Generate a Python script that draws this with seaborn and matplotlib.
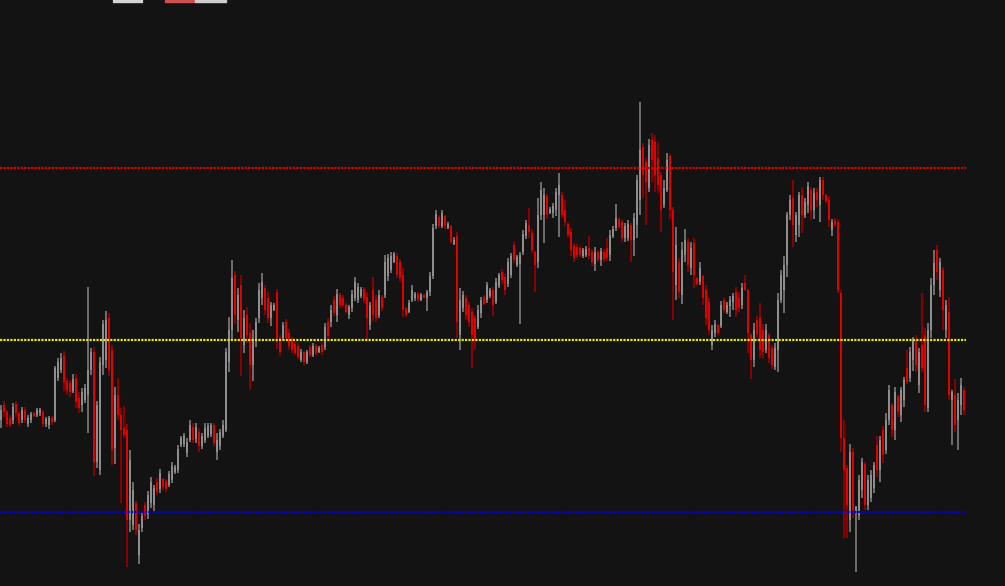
import numpy as np
import pandas as pd
import matplotlib
matplotlib.use("Agg")
import matplotlib.pyplot as plt
from matplotlib.patches import Rectangle
import seaborn as sns

# ---- OHLC data (index points) ----
opens = [10920, 10935, 10928, 10922, 10920, 10936, 10927, 10920, 10930, 10916,
 10920, 10927, 10925, 10927, 10928, 10916, 10915, 10922, 10920, 10962,
 10970, 10984, 10959, 10957, 10949, 10962, 10942, 10935, 10940, 10945,
 10970, 10988, 10878, 10870, 10975, 10980, 11022, 10990, 10892, 10945,
 10925, 10912, 10910, 10820, 10815, 10837, 10785, 10812, 10835, 10826,
 10837, 10835, 10858, 10851, 10861, 10859, 10855, 10860, 10868, 10870,
 10895, 10896, 10887, 10900, 10913, 10901, 10908, 10894, 10900, 10904,
 10906, 10915, 10888, 10894, 10904, 10910, 10978, 11010, 11065, 11020,
 11055, 10995, 11025, 11007, 10975, 11000, 11022, 11042, 11052, 11042,
 11022, 11030, 11048, 11002, 11002, 11018, 11007, 11000, 10996, 10994,
 10980, 10988, 10978, 10993, 10985, 10994, 10988, 10995, 10993, 11018,
 11018, 11040, 11025, 11045, 11042, 11035, 11025, 11032, 11042, 11040,
 11044, 11051, 11043, 11015, 11050, 11040, 11025, 11043, 11045, 11064,
 11070, 11078, 11084, 11078, 11065, 11032, 11028, 11040, 11042, 11046,
 11040, 11045, 11042, 11048, 11064, 11114, 11123, 11114, 11124, 11112,
 11114, 11096, 11104, 11005, 11032, 11042, 11035, 11028, 11022, 11013,
 11027, 11043, 11040, 11044, 11050, 11038, 11054, 11068, 11063, 11056,
 11065, 11095, 11075, 11076, 11088, 11104, 11115, 11107, 11088, 11078,
 11125, 11125, 11144, 11127, 11127, 11130, 11145, 11145, 11130, 11116,
 11108, 11094, 11093, 11092, 11084, 11085, 11092, 11088, 11076, 11088,
 11080, 11088, 11092, 11085, 11104, 11112, 11121, 11118, 11102, 11102,
 11115, 11100, 11115, 11140, 11193, 11178, 11152, 11200, 11198, 11182,
 11165, 11135, 11150, 11184, 11130, 11055, 11078, 11045, 11085, 11098,
 11072, 11097, 11062, 11058, 11064, 11050, 11038, 10995, 11007, 11015,
 11014, 11040, 11028, 11034, 11038, 11048, 11042, 11035, 11057, 11050,
 11005, 10980, 11020, 11022, 11010, 10990, 11005, 10992, 10973, 10990,
 11040, 11050, 11075, 11125, 11142, 11105, 11115, 11145, 11125, 11135,
 11150, 11130, 11148, 11135, 11160, 11145, 11140, 11110, 11120, 11118,
 11047, 10902, 10872, 10820, 10888, 10829, 10825, 10850, 10876, 10835,
 10842, 10852, 10895, 10870, 10910, 10890, 10920, 10935, 10910, 10944,
 10925, 10940, 10972, 10962, 10980, 11000, 10955, 10995, 11005, 10932,
 11010, 11055, 11090, 11050, 11070, 11010, 11028, 10940, 10945, 10920,
 10935, 10950]

highs = [10935, 10939, 10930, 10925, 10937, 10939, 10929, 10933, 10933, 10925,
 10928, 10928, 10932, 10932, 10930, 10923, 10924, 10924, 10974, 10982,
 10987, 10989, 10962, 10960, 10966, 10966, 10948, 10952, 10956, 11053,
 10992, 10993, 10939, 10983, 11020, 11029, 11027, 10995, 10953, 10962,
 10932, 10934, 10916, 10890, 10858, 10839, 10816, 10827, 10838, 10849,
 10863, 10855, 10862, 10871, 10862, 10861, 10869, 10878, 10875, 10895,
 10904, 10907, 10902, 10920, 10917, 10917, 10912, 10907, 10917, 10917,
 10917, 10917, 10907, 10911, 10920, 10992, 11023, 11080, 11069, 11052,
 11065, 11030, 11033, 11017, 11010, 11022, 11057, 11067, 11055, 11048,
 11038, 11037, 11051, 11005, 11018, 11021, 11011, 11003, 10998, 10997,
 10991, 10989, 10990, 10995, 10997, 10996, 10994, 10997, 11017, 11022,
 11035, 11044, 11051, 11047, 11045, 11037, 11035, 11050, 11063, 11057,
 11053, 11053, 11048, 11038, 11063, 11045, 11050, 11045, 11085, 11086,
 11088, 11088, 11087, 11081, 11072, 11033, 11040, 11055, 11048, 11048,
 11047, 11046, 11050, 11068, 11116, 11130, 11125, 11130, 11125, 11118,
 11115, 11103, 11108, 11052, 11049, 11045, 11038, 11032, 11025, 11035,
 11043, 11045, 11058, 11052, 11053, 11062, 11067, 11071, 11066, 11082,
 11087, 11098, 11085, 11088, 11110, 11120, 11132, 11111, 11089, 11142,
 11158, 11152, 11146, 11133, 11137, 11152, 11167, 11148, 11140, 11118,
 11112, 11097, 11096, 11094, 11092, 11094, 11104, 11091, 11093, 11090,
 11092, 11091, 11102, 11110, 11114, 11136, 11123, 11121, 11117, 11120,
 11117, 11127, 11165, 11238, 11197, 11182, 11201, 11207, 11205, 11198,
 11168, 11160, 11187, 11186, 11133, 11113, 11082, 11098, 11111, 11102,
 11098, 11102, 11063, 11078, 11065, 11055, 11042, 11015, 11020, 11016,
 11039, 11042, 11038, 11044, 11047, 11053, 11048, 11057, 11065, 11051,
 11007, 11017, 11024, 11037, 11016, 11016, 11007, 10995, 10997, 11047,
 11070, 11084, 11128, 11145, 11160, 11128, 11148, 11153, 11142, 11158,
 11153, 11152, 11152, 11163, 11163, 11146, 11144, 11121, 11122, 11121,
 11050, 10920, 10875, 10896, 10892, 10834, 10865, 10882, 10878, 10865,
 10870, 10878, 10904, 10904, 10914, 10927, 10955, 10937, 10953, 10945,
 10953, 10963, 10990, 10993, 11003, 11005, 10992, 11047, 11012, 11017,
 11062, 11090, 11095, 11082, 11073, 11040, 11043, 10950, 10961, 10947,
 10962, 10953]

lows = [10912, 10923, 10913, 10913, 10916, 10923, 10914, 10917, 10917, 10913,
 10917, 10923, 10923, 10924, 10913, 10913, 10911, 10915, 10918, 10959,
 10967, 10949, 10945, 10943, 10947, 10932, 10927, 10928, 10937, 10907,
 10965, 10864, 10872, 10865, 10965, 10972, 10964, 10875, 10876, 10920,
 10837, 10902, 10773, 10808, 10810, 10805, 10776, 10808, 10820, 10821,
 10832, 10829, 10845, 10847, 10850, 10848, 10853, 10857, 10866, 10867,
 10893, 10893, 10883, 10898, 10897, 10897, 10888, 10891, 10897, 10902,
 10903, 10894, 10880, 10890, 10902, 10908, 10968, 11000, 11016, 11008,
 10964, 10987, 10997, 10950, 10959, 10993, 11017, 11035, 11025, 11017,
 11014, 11029, 10991, 10984, 11000, 11000, 10990, 10987, 10985, 10981,
 10978, 10975, 10976, 10983, 10983, 10985, 10987, 10985, 10990, 11001,
 11013, 11024, 11018, 11032, 11033, 11027, 11021, 11028, 11039, 11037,
 11042, 11037, 11000, 11010, 11018, 11018, 11022, 11029, 11042, 11059,
 11067, 11077, 11062, 11058, 11023, 11023, 11027, 11038, 11039, 11038,
 11039, 11042, 11029, 11044, 11061, 11111, 11112, 11112, 11111, 11111,
 11096, 11095, 11002, 10990, 11028, 11020, 11013, 10972, 10990, 11011,
 11022, 11035, 11037, 11042, 11024, 11036, 11052, 11056, 11045, 11053,
 11062, 11077, 11073, 11016, 11085, 11101, 11102, 11087, 11048, 11072,
 11120, 11097, 11121, 11126, 11122, 11124, 11103, 11122, 11114, 11103,
 11084, 11078, 11082, 11083, 11082, 11083, 11081, 11074, 11069, 11078,
 11074, 11078, 11079, 11079, 11102, 11109, 11111, 11098, 11098, 11099,
 11078, 11084, 11102, 11125, 11142, 11115, 11148, 11158, 11148, 11147,
 11108, 11132, 11148, 11121, 11020, 11040, 11042, 11036, 11078, 11068,
 11065, 11052, 11055, 11055, 11035, 11015, 11005, 10990, 11003, 11005,
 11012, 11027, 11026, 11023, 11030, 11023, 11028, 11031, 11049, 10987,
 10961, 10973, 11003, 10982, 10982, 10987, 10977, 10971, 10970, 10968,
 11037, 11027, 11063, 11120, 11093, 11098, 11103, 11107, 11122, 11127,
 11120, 11121, 11133, 11118, 11140, 11137, 11113, 11104, 11113, 11047,
 10888, 10802, 10802, 10808, 10822, 10768, 10820, 10842, 10830, 10830,
 10838, 10847, 10863, 10858, 10877, 10886, 10915, 10903, 10900, 10923,
 10918, 10933, 10956, 10958, 10969, 10968, 10947, 10968, 10928, 10928,
 11002, 11045, 11060, 11043, 11010, 11002, 10940, 10895, 10908, 10890,
 10925, 10925]

closes = [10930, 10928, 10916, 10915, 10933, 10927, 10917, 10930, 10920, 10922,
 10926, 10924, 10930, 10930, 10916, 10921, 10922, 10918, 10972, 10978,
 10982, 10958, 10950, 10948, 10961, 10938, 10932, 10948, 10952, 10970,
 10988, 10878, 10935, 10978, 11016, 11020, 10970, 10890, 10945, 10925,
 10910, 10905, 10820, 10880, 10850, 10810, 10810, 10824, 10824, 10845,
 10858, 10852, 10848, 10867, 10853, 10851, 10866, 10874, 10873, 10891,
 10902, 10904, 10898, 10915, 10900, 10913, 10894, 10904, 10912, 10914,
 10915, 10897, 10900, 10908, 10915, 10988, 11010, 11062, 11025, 11045,
 11002, 11022, 11005, 10975, 11000, 11018, 11050, 11058, 11030, 11022,
 11035, 11035, 11002, 10988, 11015, 11002, 10994, 10990, 10987, 10983,
 10988, 10978, 10988, 10985, 10994, 10987, 10992, 10988, 11013, 11004,
 11030, 11027, 11046, 11035, 11035, 11028, 11033, 11046, 11058, 11053,
 11051, 11040, 11022, 11035, 11025, 11022, 11045, 11032, 11078, 11082,
 11084, 11086, 11065, 11062, 11030, 11025, 11037, 11050, 11046, 11040,
 11045, 11042, 11048, 11064, 11112, 11126, 11114, 11127, 11114, 11116,
 11098, 11100, 11018, 11040, 11045, 11025, 11018, 11005, 11000, 11030,
 11040, 11036, 11055, 11050, 11035, 11058, 11065, 11060, 11050, 11078,
 11084, 11080, 11083, 11085, 11106, 11117, 11108, 11090, 11075, 11125,
 11150, 11145, 11125, 11131, 11134, 11148, 11155, 11125, 11118, 11105,
 11090, 11082, 11085, 11085, 11090, 11091, 11084, 11078, 11088, 11080,
 11089, 11081, 11082, 11105, 11111, 11122, 11113, 11102, 11114, 11116,
 11100, 11122, 11160, 11190, 11165, 11158, 11195, 11180, 11165, 11155,
 11130, 11152, 11180, 11130, 11068, 11095, 11048, 11090, 11100, 11075,
 11092, 11065, 11056, 11072, 11042, 11022, 11010, 11010, 11016, 11007,
 11035, 11030, 11035, 11040, 11044, 11030, 11032, 11052, 11050, 11007,
 10980, 11010, 11006, 10990, 10988, 11010, 10982, 10975, 10992, 11040,
 11065, 11075, 11125, 11140, 11115, 11125, 11145, 11125, 11138, 11154,
 11130, 11147, 11140, 11160, 11145, 11139, 11120, 11118, 11115, 11050,
 10902, 10870, 10835, 10888, 10830, 10833, 10860, 10878, 10835, 10860,
 10865, 10875, 10870, 10900, 10885, 10920, 10950, 10910, 10948, 10928,
 10950, 10960, 10958, 10988, 11000, 10975, 10988, 10972, 10935, 11010,
 11055, 11077, 11068, 11078, 11030, 11035, 10945, 10948, 10915, 10940,
 10955, 10930]

# horizontal levels: resistance, pivot, support
level_names = ["resistance", "pivot", "support"]
level_values = [11172, 11000, 10828]
level_colors = ["#e00000", "#e6e600", "#0000e0"]

# ---- style ----
BG = "#131313"
UP_BODY, UP_WICK = "#8e8e8e", "#6c6c6c"
DN_BODY, DN_WICK = "#e40000", "#8a0000"

sns.set_theme(style="dark", rc={"axes.facecolor": BG, "figure.facecolor": BG})
plt.rcParams["font.family"] = ["DejaVu Sans"]

n = min(len(opens), len(highs), len(lows), len(closes))
df = pd.DataFrame({
    "open": opens[:n], "high": highs[:n], "low": lows[:n], "close": closes[:n]
})
df["idx"] = np.arange(n)
up = df["close"] >= df["open"]

fig = plt.figure(figsize=(10.05, 5.86), dpi=100)
fig.patch.set_facecolor(BG)
ax = fig.add_axes([0, 0, 1, 1])
ax.set_facecolor(BG)

W = 0.8
# wicks
ax.bar(df["idx"], df["high"] - df["low"], bottom=df["low"], width=W,
       color=np.where(up, UP_WICK, DN_WICK), linewidth=0, antialiased=False, zorder=2)
# bodies
body_lo = np.minimum(df["open"], df["close"])
body_h = np.maximum((df["close"] - df["open"]).abs(), 1)
ax.bar(df["idx"], body_h, bottom=body_lo, width=W,
       color=np.where(up, UP_BODY, DN_BODY), linewidth=0, antialiased=False, zorder=3)

# level lines with seaborn
x0 = -1.0 / 3.0
x_end = n - 1 + 0.5
lv = pd.DataFrame({
    "x": [x0, x_end] * len(level_values),
    "y": [v for v in level_values for _ in range(2)],
    "level": [nm for nm in level_names for _ in range(2)],
})
sns.lineplot(data=lv, x="x", y="y", hue="level",
             palette=dict(zip(level_names, level_colors)),
             hue_order=level_names, legend=False, ax=ax,
             linewidth=1.6, linestyle=(0, (1, 0.55)), zorder=5,
             estimator=None, sort=False)

ax.set_xlim(x0, x0 + 1005 / 3.0)
ax.set_ylim(10754, 11340)
ax.set_axis_off()

# clipped legend swatches at the very top edge
for (x, w, c) in [(113, 29, "#d4d4d4"), (165, 30, "#cc5050"), (195, 31, "#cfcfcf")]:
    fig.patches.append(Rectangle((x / 1005, 1 - 2 / 586), w / 1005, 2 / 586,
                                 transform=fig.transFigure, color=c, zorder=10))

fig.savefig("out.png", dpi=100, facecolor=BG)
